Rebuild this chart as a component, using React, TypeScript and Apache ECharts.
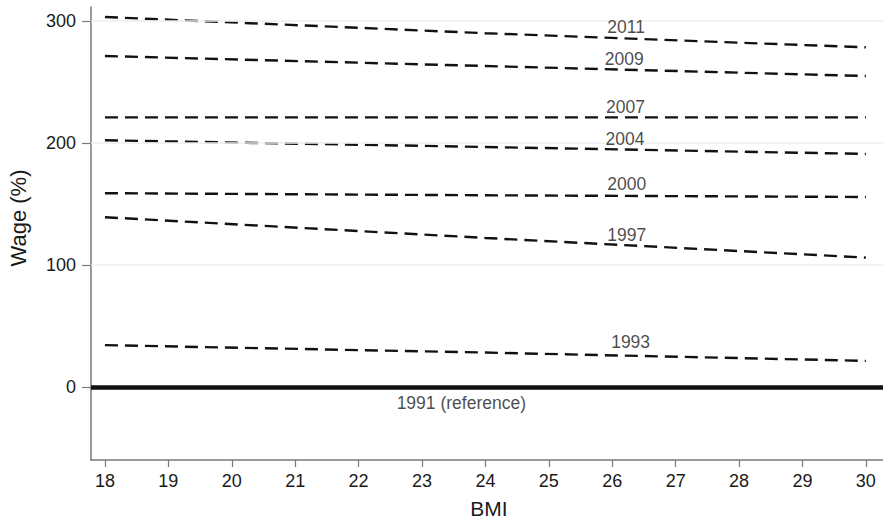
import React, { useEffect, useRef } from "react";
import * as echarts from "echarts";

const bmi = [18, 24, 30];
const years = ["2011", "2009", "2007", "2004", "2000", "1997", "1993"];
const wage2011 = [303.3, 290.0, 278.4];
const wage2009 = [271.3, 263.1, 254.9];
const wage2007 = [221.0, 221.0, 221.0];
const wage2004 = [202.2, 196.7, 191.0];
const wage2000 = [158.8, 157.1, 155.7];
const wage1997 = [139.1, 122.1, 106.0];
const wage1993 = [34.2, 28.1, 21.3];
const wageSeries = [wage2011, wage2009, wage2007, wage2004, wage2000, wage1997, wage1993];

const referenceLabel = "1991 (reference)";
const referenceValue = 0;

const labelText = ["2011", "2009", "2007", "2004", "2000", "1997", "1993", "1991 (reference)"];
const labelX = [26.22, 26.19, 26.21, 26.2, 26.23, 26.23, 26.29, 23.62];
const labelY = [295.3, 268.6, 229.7, 203.0, 166.1, 124.5, 37.0, -13.0];

const xTicks = [18, 19, 20, 21, 22, 23, 24, 25, 26, 27, 28, 29, 30];
const yTicks = [0, 100, 200, 300];
const gridValues = [100, 200, 300];

const FONT = "'Liberation Sans', Arial, Helvetica, sans-serif";

export default function App() {
  const ref = useRef<HTMLDivElement>(null);
  useEffect(() => {
    document.body.style.margin = "0";
    const chart = echarts.init(ref.current!, null, { renderer: "svg" });
    const lineSeries = years.map((y, i) => ({
      type: "line",
      name: y,
      data: bmi.map((b, j) => [b, wageSeries[i][j]]),
      showSymbol: false,
      symbol: "none",
      lineStyle: { color: "#111", width: 2.4, type: [13, 7] },
      z: 3,
    }));
    chart.setOption({
      animation: false,
      grid: { left: 91, right: 0, top: 7, bottom: 60, containLabel: false },
      xAxis: {
        type: "value",
        min: 17.78,
        max: 30.27,
        axisLine: { show: true, onZero: false, lineStyle: { color: "#7a7a7a", width: 1.5 } },
        axisTick: { show: true, length: 7, customValues: xTicks, lineStyle: { color: "#7a7a7a", width: 1.2 } },
        axisLabel: { customValues: xTicks, margin: 12, fontSize: 18, color: "#1a1a1a", fontFamily: FONT },
        splitLine: { show: false },
      },
      yAxis: {
        type: "value",
        min: -60,
        max: 311.5,
        axisLine: { show: true, onZero: false, lineStyle: { color: "#7a7a7a", width: 1.5 } },
        axisTick: { show: true, length: 9, customValues: yTicks, lineStyle: { color: "#7a7a7a", width: 1.2 } },
        axisLabel: { customValues: yTicks, margin: 15, fontSize: 18, color: "#1a1a1a", fontFamily: FONT },
        splitLine: { show: false },
      },
      graphic: [
        {
          type: "text",
          x: 489,
          y: 508,
          style: { text: "BMI", fontSize: 21, fill: "#1a1a1a", fontFamily: FONT, align: "center", verticalAlign: "middle" },
        },
        {
          type: "text",
          x: 18,
          y: 218,
          rotation: Math.PI / 2,
          style: { text: "Wage (%)", fontSize: 22, fill: "#1a1a1a", fontFamily: FONT, align: "center", verticalAlign: "middle" },
        },
      ],
      series: [
        {
          type: "line",
          name: "grid",
          data: [],
          markLine: {
            silent: true,
            symbol: "none",
            label: { show: false },
            lineStyle: { color: "#eeeeee", width: 1.5, type: "solid" },
            data: gridValues.map((v) => ({ yAxis: v })),
          },
          z: 1,
        },
        {
          type: "line",
          name: referenceLabel,
          data: [],
          markLine: {
            silent: true,
            symbol: "none",
            label: { show: false },
            lineStyle: { color: "#111", width: 4.5, type: "solid" },
            data: [{ yAxis: referenceValue }],
          },
          z: 4,
        },
        ...lineSeries,
        {
          type: "scatter",
          name: "labels",
          symbolSize: 0,
          itemStyle: { color: "transparent" },
          data: labelText.map((t, i) => ({ value: [labelX[i], labelY[i]], name: t })),
          label: {
            show: true,
            position: "inside",
            formatter: (p: any) => p.name,
            fontSize: 17.5,
            color: "#1a1a1a",
            textBorderWidth: 0,
            textBorderColor: "transparent",
            fontFamily: FONT,
          },
          z: 5,
        },
      ],
    });
    return () => chart.dispose();
  }, []);
  return <div ref={ref} style={{ width: 883, height: 520 }} />;
}
